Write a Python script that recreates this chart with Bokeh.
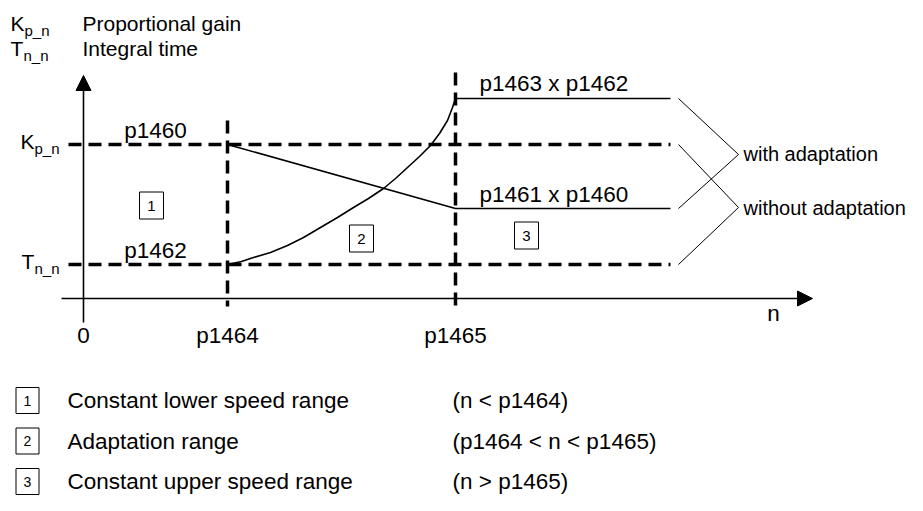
from bokeh.plotting import figure
from bokeh.models import Range1d, Arrow, NormalHead
from bokeh.core.properties import value
from bokeh.embed import file_html
from bokeh.resources import INLINE

# ---------------- data (schematic units; origin at the axis crossing) ----------------
n_ticks = [0, 144, 372]
n_tick_labels = ["0", "p1464", "p1465"]
n_end = 587                 # right end of the level lines
kp_level = 154              # p1460 (Kp_n without adaptation)
tn_level = 34               # p1462 (Tn_n without adaptation)
kp_upper = 90               # p1461 x p1460
tn_upper = 200              # p1463 x p1462
tn_curve_n = [144, 158, 170, 187, 204, 220, 237, 254, 270, 285, 300, 312, 324, 336, 347, 356, 364, 369, 372]
tn_curve_v = [34, 37, 41, 46, 53, 61, 71, 81, 91, 100, 110, 120, 131, 142, 153, 165, 178, 191, 200]

level_labels = ["p1460", "p1462", "p1461 x p1460", "p1463 x p1462"]
range_ids = ["1", "2", "3"]
range_names = ["Constant lower speed range", "Adaptation range", "Constant upper speed range"]
range_conditions = ["(n < p1464)", "(p1464 < n < p1465)", "(n > p1465)"]
header_symbols = [("K", "p_n"), ("T", "n_n")]
header_texts = ["Proportional gain", "Integral time"]
bracket_texts = ["with adaptation", "without adaptation"]

# ---------------- layout ----------------
FONT = "Liberation Sans"
W, H = 907, 495
X0, Y0 = 83, 298          # picture position of the origin
LBL = 22.5                # chart / legend label size


def pg(xp, yp):
    """picture pixel position -> plot coordinates"""
    return xp - X0, Y0 - yp


p = figure(width=W, height=H,
           x_range=Range1d(-X0, W - X0),
           y_range=Range1d(Y0 - H, Y0),
           output_backend="svg", toolbar_location=None,
           x_axis_location=None, y_axis_location=None, min_border=0)
p.grid.visible = False
p.outline_line_color = None
p.background_fill_color = "white"
p.border_fill_color = "white"


def txt(x, y, s, size=21, align="left", baseline="middle"):
    p.text(x=[x], y=[y], text=[s], text_font=value(FONT),
           text_font_size=value(f"{size}px"), text_color="black",
           text_align=align, text_baseline=baseline)


# axes with arrows
p.add_layout(Arrow(end=NormalHead(size=15, fill_color="black", line_color="black"),
                   x_start=-22, y_start=0, x_end=729, y_end=0,
                   line_width=1.6, line_color="black"))
p.add_layout(Arrow(end=NormalHead(size=15, fill_color="black", line_color="black"),
                   x_start=0, y_start=-24, x_end=0, y_end=223,
                   line_width=1.6, line_color="black"))

# dashed levels (without adaptation)
DASH = dict(line_width=3.5, line_color="black", line_dash="13 7", line_cap="butt")
p.line([-15, n_end], [kp_level, kp_level], **DASH)
p.line([-15, n_end], [tn_level, tn_level], **DASH)
p.line([n_ticks[1], n_ticks[1]], [178, -8], **DASH)
p.line([n_ticks[2], n_ticks[2]], [226, -11], **DASH)

# solid curves (with adaptation)
p.line([n_ticks[1], n_ticks[2], n_end], [kp_level, kp_upper, kp_upper],
       line_width=1.6, line_color="black")
p.line(tn_curve_n + [n_end], tn_curve_v + [tn_upper], line_width=1.6, line_color="black")

# level labels
txt(72, kp_level + 14.5, level_labels[0], size=LBL, align="center")
txt(72, tn_level + 14.5, level_labels[1], size=LBL, align="center")
txt(396, kp_upper + 14, level_labels[2], size=LBL)
txt(396, tn_upper + 15, level_labels[3], size=LBL)

# range boxes in the chart
for (bx, by), lab in zip([(68, 93), (278, 60), (443, 63)], range_ids):
    p.rect(x=[bx], y=[by], width=24, height=27, width_units="screen", height_units="screen",
           fill_color=None, line_color="black", line_width=1)
    txt(bx, by, lab, size=15, align="center")

# tick labels
for xv, lab in zip(n_ticks, n_tick_labels):
    txt(xv, -37, lab, size=LBL, align="center")
txt(*pg(773, 313), "n", size=LBL, align="center")

# y level labels at the left
for (sym, sub), yv in zip(header_symbols, [kp_level, tn_level]):
    bx = pg(20 if sym == "K" else 21, 0)[0]
    txt(bx, yv + 3.5, sym)
    txt(bx + (14 if sym == "K" else 13), yv - 4, sub, size=15)

# brackets
BR = dict(line_width=1, line_color="black")
p.line([595, 655, 595], [tn_upper, 144, kp_upper], **BR)
p.line([595, 655, 595], [kp_level, 91, tn_level], **BR)
txt(*pg(743, 153), bracket_texts[0], size=20)
txt(*pg(743, 207), bracket_texts[1], size=20)

# header
for i, ((sym, sub), desc) in enumerate(zip(header_symbols, header_texts)):
    yc = 22.5 + 25 * i
    hx, hy = pg(10, yc)
    txt(hx, hy, sym)
    txt(hx + (14 if sym == "K" else 13), hy - 7.5, sub, size=15)
    txt(*pg(82, yc), desc)

# legend
for i, (rid, name, cond) in enumerate(zip(range_ids, range_names, range_conditions)):
    yc = 400 + 40.5 * i
    bx, by = pg(27, yc)
    p.rect(x=[bx], y=[by], width=23, height=26, width_units="screen", height_units="screen",
           fill_color=None, line_color="black", line_width=1)
    txt(bx, by, rid, size=14, align="center")
    txt(*pg(67, yc), name, size=LBL)
    txt(*pg(452, yc), cond, size=LBL)

open("out.html", "w").write(file_html(p, INLINE))
